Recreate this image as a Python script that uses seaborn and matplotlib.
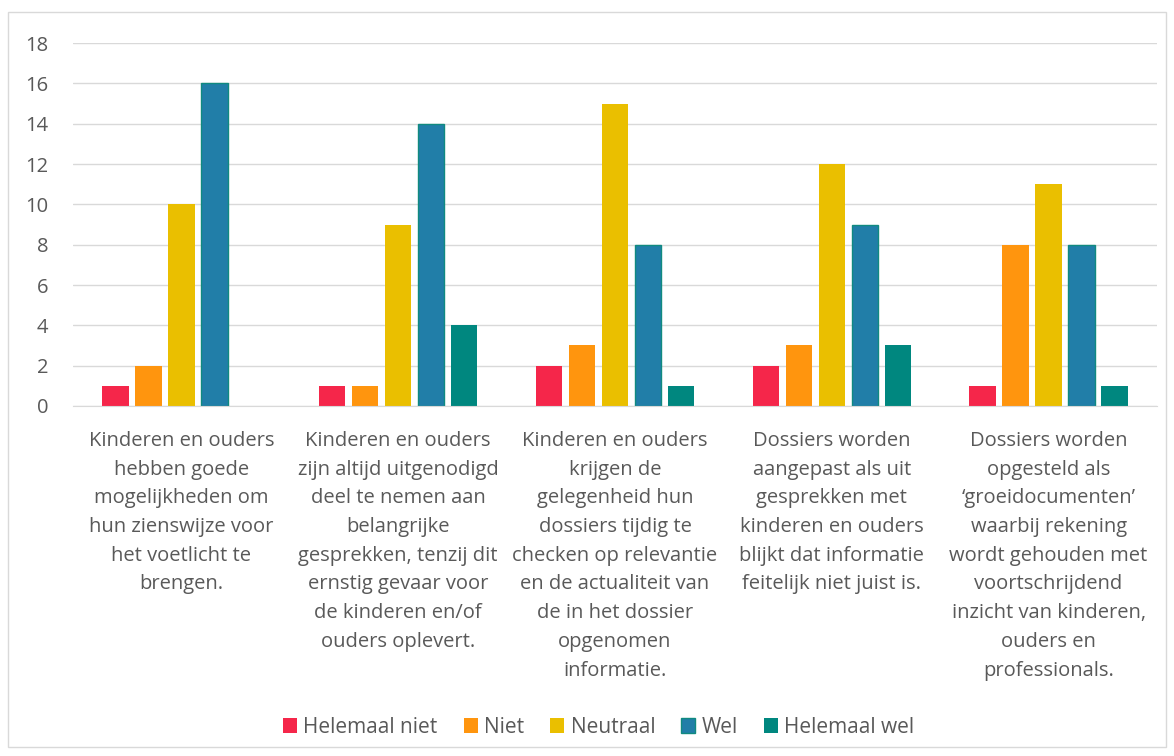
""" Grouped bar chart of survey answers per statement """

import numpy as np
import pandas as pd

import matplotlib
matplotlib.use("Agg")
import matplotlib.pyplot as plt
from matplotlib.patches import Rectangle
import seaborn as sns


""" Data read from the picture """

statements = [
    "Kinderen en ouders\nhebben goede\nmogelijkheden om\nhun zienswijze voor\nhet voetlicht te\nbrengen.",
    "Kinderen en ouders\nzijn altijd uitgenodigd\ndeel te nemen aan\nbelangrijke\ngesprekken, tenzij dit\nernstig gevaar voor\nde kinderen en/of\nouders oplevert.",
    "Kinderen en ouders\nkrijgen de\ngelegenheid hun\ndossiers tijdig te\nchecken op relevantie\nen de actualiteit van\nde in het dossier\nopgenomen\ninformatie.",
    "Dossiers worden\naangepast als uit\ngesprekken met\nkinderen en ouders\nblijkt dat informatie\nfeitelijk niet juist is.",
    "Dossiers worden\nopgesteld als\n\u2018groeidocumenten\u2019\nwaarbij rekening\nwordt gehouden met\nvoortschrijdend\ninzicht van kinderen,\nouders en\nprofessionals.",
]
answers = ["Helemaal niet", "Niet", "Neutraal", "Wel", "Helemaal wel"]

helemaal_niet = [1, 1, 2, 2, 1]
niet = [2, 1, 3, 3, 8]
neutraal = [10, 9, 15, 12, 11]
wel = [16, 14, 8, 9, 8]
helemaal_wel = [0, 4, 1, 3, 1]

colors = ["#F5264A", "#FF950E", "#EABF00", "#217EA8", "#00877F"]

# long format for seaborn
rows = []
for answer, values in zip(answers, [helemaal_niet, niet, neutraal, wel, helemaal_wel]):
    for statement, v in zip(statements, values):
        rows.append({"Statement": statement, "Answer": answer, "Count": v})
df = pd.DataFrame(rows)


""" Plot """

sns.set_style("white")
plt.rcParams["font.family"] = ["Open Sans", "DejaVu Sans"]

fig = plt.figure(figsize=(11.74, 7.56), dpi=100)
ax = fig.add_axes([0.0622, 0.463, 0.9233, 0.48])

sns.barplot(data=df, x="Statement", y="Count", hue="Answer", order=statements,
            hue_order=answers, palette=colors, width=0.76, gap=0.2,
            saturation=1, ax=ax, linewidth=0)

# the blue bars have a thin teal edge in the original
for bar in ax.containers[3]:
    bar.set_edgecolor("#108A80")
    bar.set_linewidth(1)

ax.set_ylim(0, 18)
ax.set_yticks(np.arange(0, 19, 2))
ax.set_xlim(-0.5, 4.5)
ax.yaxis.grid(True, color="#D9D9D9", lw=1)
ax.set_axisbelow(True)
for side in ["top", "right", "left"]:
    ax.spines[side].set_visible(False)
ax.spines["bottom"].set_color("#D9D9D9")
ax.set_xlabel("")
ax.set_ylabel("")
ax.tick_params(axis="y", length=0, pad=18, labelsize=14.5, labelcolor="#595959")
ax.tick_params(axis="x", length=0, pad=18, labelsize=14.5, labelcolor="#595959")
for lbl in ax.get_xticklabels():
    lbl.set_linespacing(1.58)
    lbl.set_va("top")

leg = ax.legend(loc="center", bbox_to_anchor=(0.51, 0.038), bbox_transform=fig.transFigure,
                ncol=5, frameon=False, fontsize=15, handlelength=0.68, handleheight=0.68,
                handletextpad=0.3, columnspacing=1.25, labelcolor="#595959")
# Wel square also has the teal edge
leg.legend_handles[3].set_edgecolor("#108A80")
leg.legend_handles[3].set_linewidth(1)

# outer chart border
fig.patches.append(Rectangle((0.007, 0.012), 0.986, 0.972, transform=fig.transFigure,
                             fill=False, edgecolor="#D9D9D9", lw=1))

fig.savefig("out.png", dpi=100)
